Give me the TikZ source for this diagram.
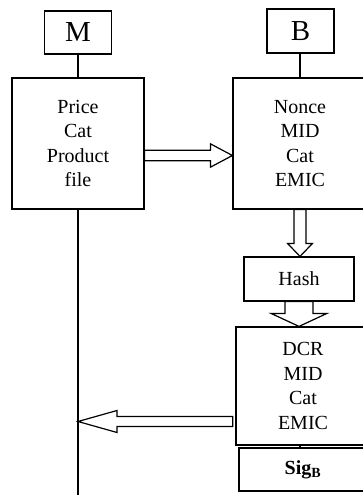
\documentclass[tikz,border=0pt]{standalone}
\usepackage{fontspec}
\setmainfont{Liberation Serif}
\usetikzlibrary{calc}

% outlined block arrow from #1 to tip #2:
% #3 half shaft width, #4 half head width, #5 head length
\newcommand\hollowarrow[5]{%
  \coordinate (hb) at ($(#2)!#5!(#1)$);
  \draw[arrowline] ($(#1)!#3!90:(#2)$) -- ($(hb)!#3!90:(#2)$)
    -- ($(hb)!#4!90:(#2)$) -- (#2) -- ($(hb)!#4!-90:(#2)$)
    -- ($(hb)!#3!-90:(#2)$) -- ($(#1)!#3!-90:(#2)$) -- cycle;}

\begin{document}
\begin{tikzpicture}[x=1pt,y=-1pt,
  every path/.style={line width=1.2pt},
  box/.style={draw, line width=1.2pt, rectangle, inner sep=0pt, align=center,
    font=\fontsize{20}{24.5}\selectfont},
  rolebox/.style={box, font=\fontsize{29}{32}\selectfont},
  arrowline/.style={draw, fill=white, line width=1.2pt, line join=miter}]
  \useasboundingbox (0,0) rectangle (363,495);

  % participants
  \node[rolebox, minimum width=67, minimum height=43] (M) at (78,32.5) {M};
  \node[rolebox, minimum width=67, minimum height=44] (B) at (300.5,31) {B};

  % message blocks
  \node[box, minimum width=132, minimum height=131] (lbox) at (78,143.5)
    {Price\\Cat\\Product\\file};
  \node[box, minimum width=134, minimum height=131] (rbox) at (300,143.5)
    {Nonce\\MID\\Cat\\EMIC};
  \node[box, minimum width=110, minimum height=44] (hash) at (299,279) {Hash};
  \node[box, minimum width=134, minimum height=118] (dcr) at (303,386)
    {DCR\\MID\\Cat\\EMIC};
  \node[box, minimum width=128, minimum height=43] (sig) at (303,469.5)
    {\textbf{Sig\textsubscript{B}}};

  % lifelines
  \coordinate (mend) at (78,495);
  \draw (M.south) -- (lbox.north);
  \draw (lbox.south) -- (mend);
  \draw (B.south -| rbox.north) -- (rbox.north);
  \draw (dcr.south -| 300,0) -- (sig.north -| 300,0);

  % block arrows
  \coordinate (r1s) at ($(lbox.east)+(0,12)$);
  \coordinate (r1t) at (rbox.west |- r1s);
  \hollowarrow{r1s}{r1t}{5.3pt}{11.7pt}{22pt}

  \coordinate (d1s) at (rbox.south);
  \coordinate (d1t) at (d1s |- hash.north);
  \hollowarrow{d1s}{d1t}{6pt}{12.5pt}{13pt}

  \coordinate (d2s) at (hash.south);
  \coordinate (d2t) at (d2s |- dcr.north);
  \hollowarrow{d2s}{d2t}{14pt}{28pt}{13pt}

  \coordinate (l1s) at ($(dcr.west)+(-2.7,35.5)$);
  \coordinate (l1t) at (lbox.south |- l1s);
  \hollowarrow{l1s}{l1t}{5pt}{11pt}{39pt}
\end{tikzpicture}
\end{document}
